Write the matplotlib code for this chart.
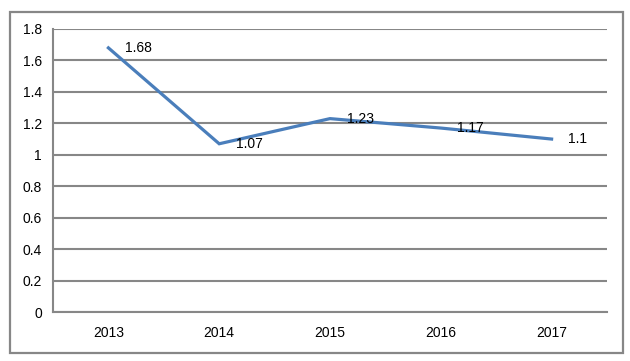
import matplotlib
matplotlib.use("Agg")
import matplotlib.pyplot as plt
from matplotlib.patches import Rectangle

years = ["2013", "2014", "2015", "2016", "2017"]
values = [1.68, 1.07, 1.23, 1.17, 1.1]
value_labels = ["1.68", "1.07", "1.23", "1.17", "1.1"]
yticks = [0, 0.2, 0.4, 0.6, 0.8, 1, 1.2, 1.4, 1.6, 1.8]
ytick_labels = ["0", "0.2", "0.4", "0.6", "0.8", "1", "1.2", "1.4", "1.6", "1.8"]

plt.rcParams['font.family'] = ['Liberation Sans', 'DejaVu Sans']

fig = plt.figure(figsize=(6.3, 3.61), dpi=100)
ax = fig.add_axes([53/630, 1-312/361, (607-53)/630, (312-29)/361])

grid_c = "#878787"
x = list(range(len(years)))
ax.plot(x, values, color="#4a7ebb", lw=2.3, solid_joinstyle="miter", zorder=3)
for xi, v, lab in zip(x, values, value_labels):
    ax.annotate(lab, (xi, v), xytext=(12, 0), textcoords="offset points",
                ha="left", va="center", fontsize=10, color="black", zorder=4)

ax.set_xlim(-0.5, len(years) - 0.5)
ax.set_ylim(0, 1.8)
ax.set_yticks(yticks)
ax.set_yticklabels(ytick_labels)
ax.set_xticks(x)
ax.set_xticklabels(years)
ax.tick_params(axis="both", length=0, labelsize=10, colors="black")
ax.tick_params(axis="y", pad=8)
ax.tick_params(axis="x", pad=10)
ax.grid(axis="y", color=grid_c, lw=1.5)
ax.set_axisbelow(True)
for s in ["top", "right"]:
    ax.spines[s].set_visible(False)
ax.spines["left"].set_color(grid_c)
ax.spines["left"].set_linewidth(1.5)
ax.spines["bottom"].set_color(grid_c)
ax.spines["bottom"].set_linewidth(1.5)

fig.patches.append(Rectangle((10/630, 1-353/361), (623-10)/630, (353-12)/361,
                             transform=fig.transFigure, fill=False,
                             edgecolor=grid_c, lw=1.6))

fig.savefig("out.png", dpi=100)
